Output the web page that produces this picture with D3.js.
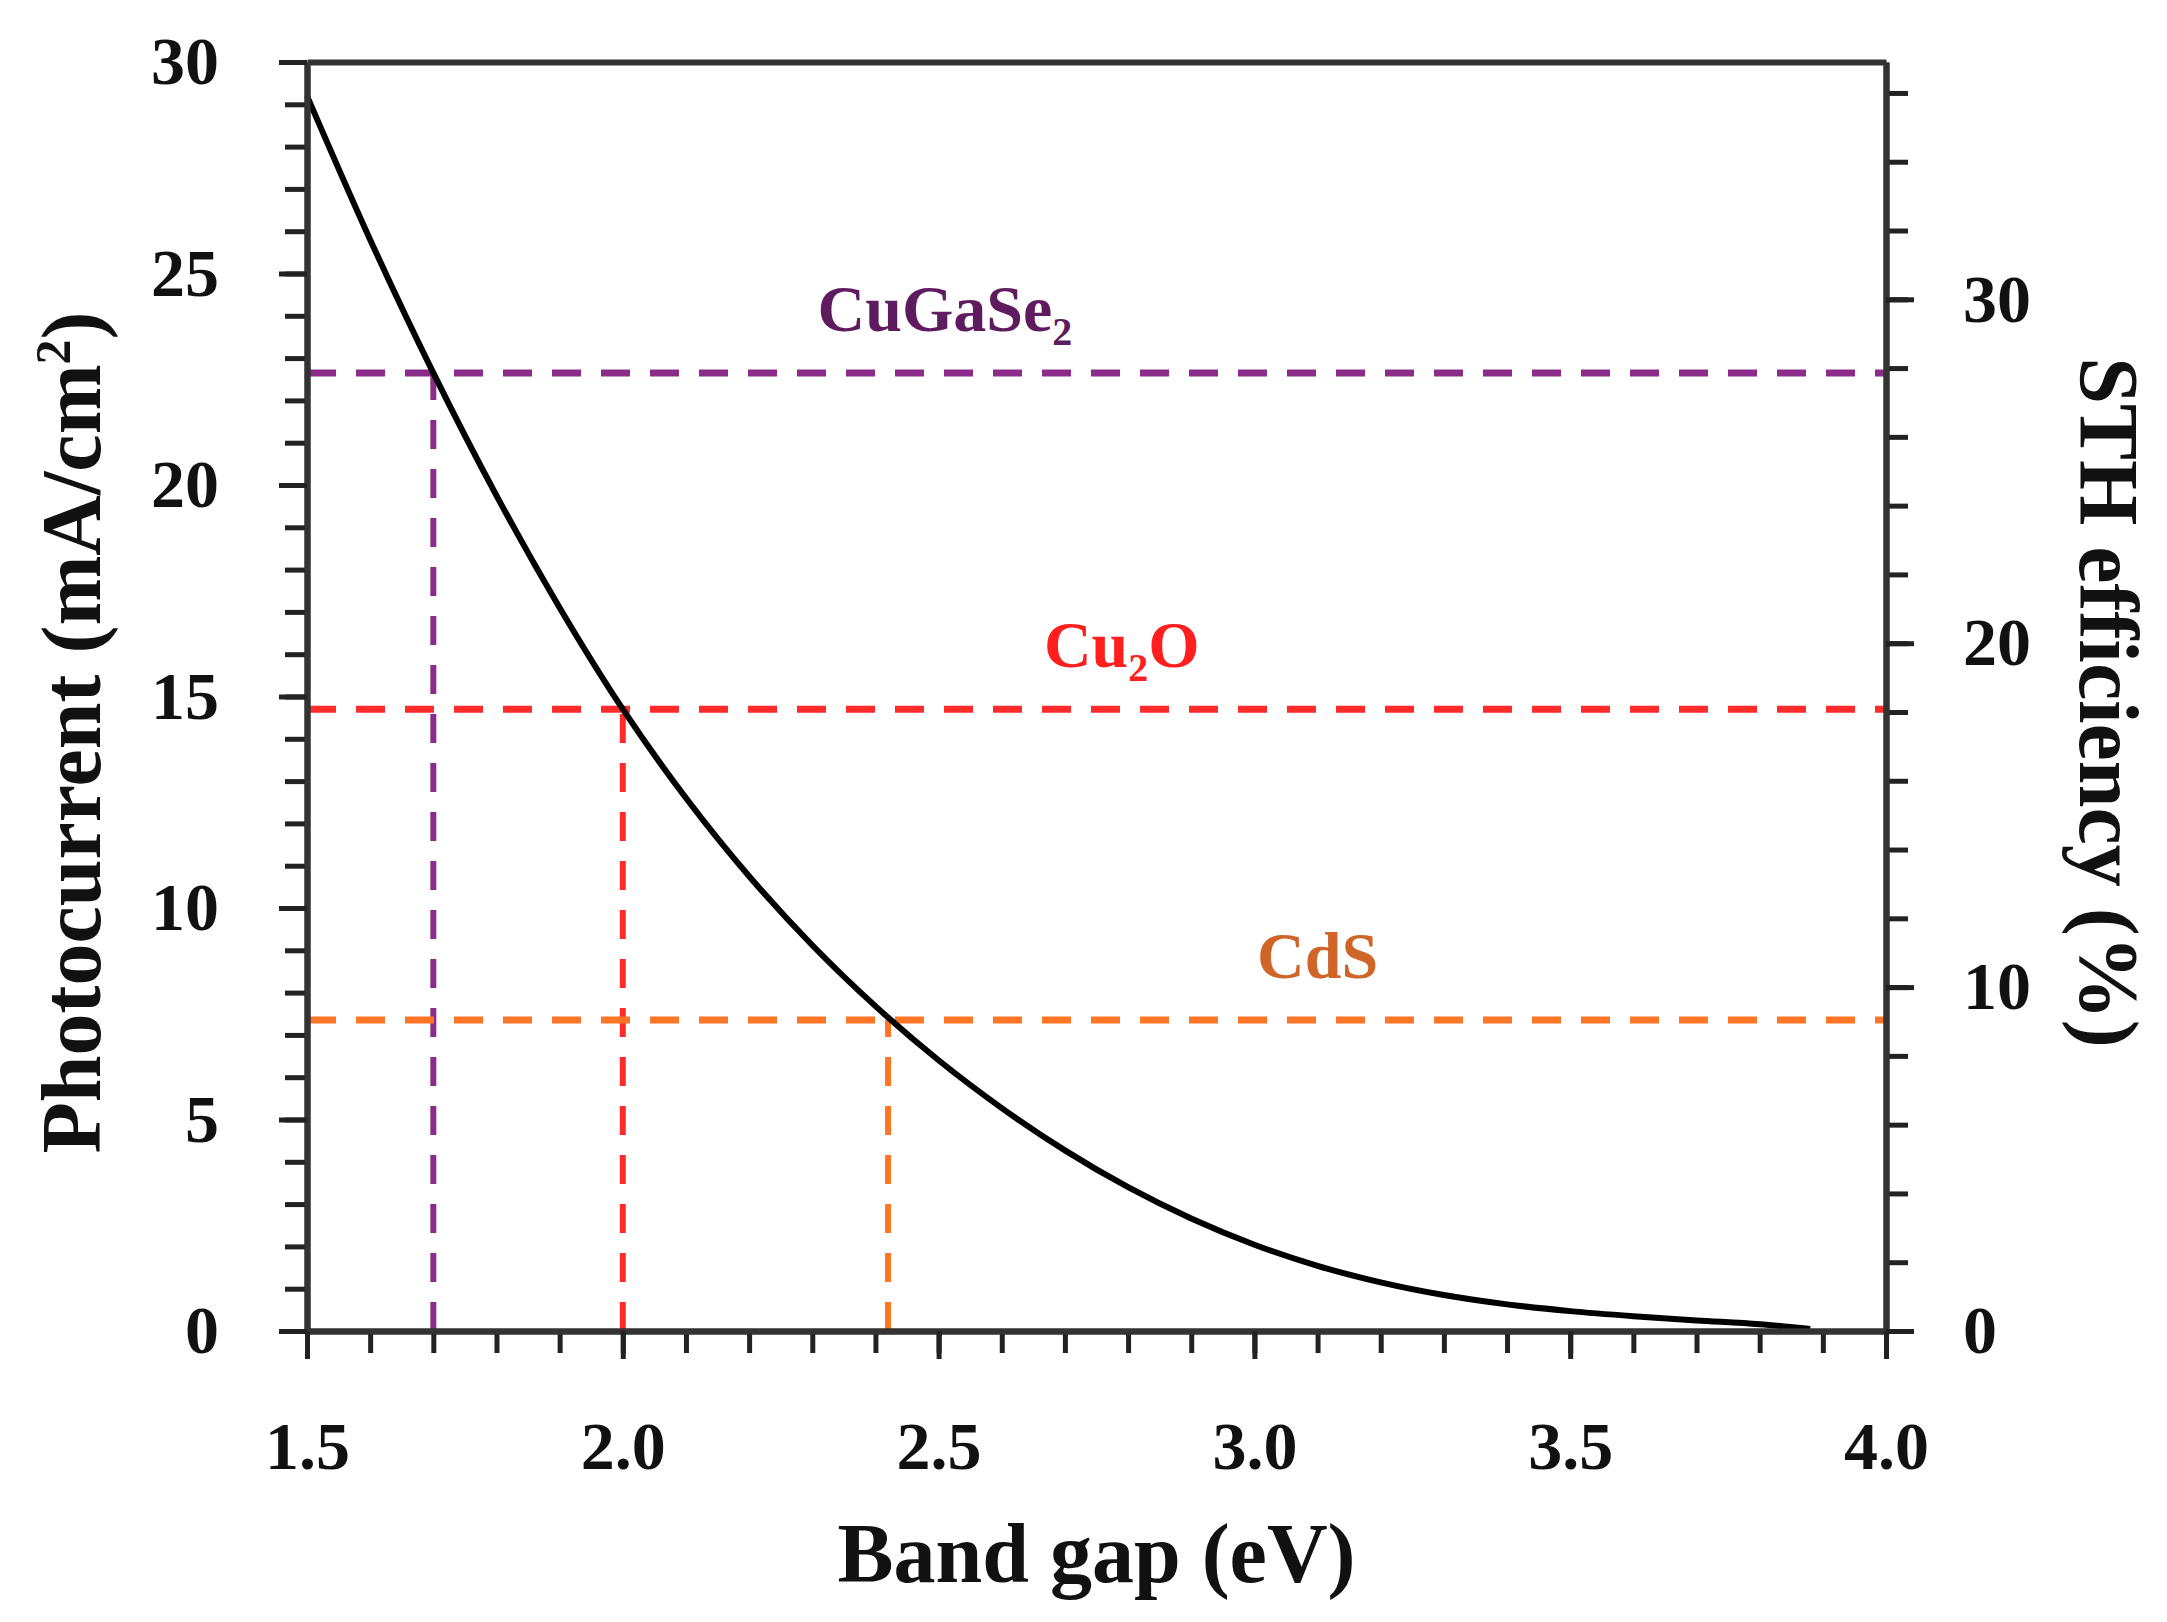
<!DOCTYPE html>
<html>
<head>
<meta charset="utf-8">
<script src="https://cdn.jsdelivr.net/npm/d3@7"></script>
<style>
  body { margin: 0; background: #fff; }
  svg { display: block; }
  text { font-family: "Liberation Serif", "Times New Roman", serif; font-weight: bold; }
</style>
</head>
<body>
<svg id="chart" width="2167" height="1622"></svg>
<script>
// curve
const bandGap = [1.5, 1.6, 1.7, 1.8, 1.9, 2.0, 2.1, 2.2, 2.3, 2.4, 2.5, 2.6, 2.7, 2.8, 2.9, 3.0, 3.1, 3.2, 3.3, 3.4, 3.5, 3.6, 3.7, 3.8, 3.88];
const photocurrent = [29.2, 25.8, 22.65, 19.75, 17.1, 14.7, 12.6, 10.75, 9.12, 7.68, 6.40, 5.27, 4.27, 3.40, 2.66, 2.04, 1.54, 1.15, 0.85, 0.63, 0.47, 0.35, 0.25, 0.16, 0.05];

// materials marked with dashed guides
const materials = ['CuGaSe2', 'Cu2O', 'CdS'];
const materialGap = [1.70, 2.00, 2.42];
const materialCurrent = [22.65, 14.7, 7.35];

// tick labels
const xTicks = [1.5, 2.0, 2.5, 3.0, 3.5, 4.0];
const yTicks = [0, 5, 10, 15, 20, 25, 30];
const y2Ticks = [0, 10, 20, 30];

const lineColors = ['#8b2c8b', '#ff2b2b', '#ff7526'];
const labelColors = ['#5e1b5e', '#ff1f1f', '#d0652a'];
const labelAt = [2.51, 2.79, 3.10]; // label centre, eV

const width = 2167;
const height = 1622;
const pL = 307, pR = 1886, pT = 62, pB = 1331;

const svg = d3.select('#chart');
svg.append('rect').attr('width', width).attr('height', height).attr('fill', '#fff');

const x = d3.scaleLinear().domain([1.5, 4.0]).range([pL, pR]);
const y = d3.scaleLinear().domain([0, 30]).range([pB, pT]);
const y2 = d3.scaleLinear().domain([0, 36.9]).range([pB, pT]);

// dashed guides
const guides = svg.append('g');
materials.forEach((m, i) => {
  guides.append('line')
    .attr('x1', x(1.5)).attr('x2', x(4.0))
    .attr('y1', y(materialCurrent[i])).attr('y2', y(materialCurrent[i]))
    .attr('stroke', lineColors[i]).attr('stroke-width', 7)
    .attr('stroke-dasharray', '29 20');
  guides.append('line')
    .attr('x1', x(materialGap[i])).attr('x2', x(materialGap[i]))
    .attr('y1', y(0)).attr('y2', y(materialCurrent[i]))
    .attr('stroke', lineColors[i]).attr('stroke-width', 6)
    .attr('stroke-dasharray', '29 20');
});

// material labels with subscripts
materials.forEach((m, i) => {
  const t = svg.append('text')
    .attr('x', x(labelAt[i]))
    .attr('y', y(materialCurrent[i]) - 42)
    .attr('text-anchor', 'middle')
    .attr('font-size', 66)
    .attr('fill', labelColors[i]);
  const parts = m.split(/(\d)/).filter(s => s.length);
  let down = false;
  parts.forEach(p => {
    if (/\d/.test(p)) {
      t.append('tspan').attr('font-size', 40).attr('dy', 14).text(p);
      down = true;
    } else {
      t.append('tspan').attr('dy', down ? -14 : 0).text(p);
      down = false;
    }
  });
});

// curve
const pts = bandGap.map((g, i) => [g, photocurrent[i]]);
const line = d3.line()
  .x(d => x(d[0]))
  .y(d => y(d[1]))
  .curve(d3.curveMonotoneX);
svg.append('path').datum(pts)
  .attr('d', line)
  .attr('fill', 'none')
  .attr('stroke', '#000')
  .attr('stroke-width', 6);

function style(g, fs) {
  g.select('.domain').attr('stroke', '#333').attr('stroke-width', 6);
  g.selectAll('.tick line').attr('stroke', '#222').attr('stroke-width', 5);
  g.selectAll('.tick text').attr('font-size', fs).attr('fill', '#111')
    .style('font-family', '"Liberation Serif", "Times New Roman", serif').style('font-weight', 'bold');
}

// top frame
svg.append('g').attr('transform', `translate(0,${pT})`)
  .call(d3.axisTop(x).tickValues([]).tickSizeOuter(0))
  .call(g => style(g, 0));

// bottom
svg.append('g').attr('transform', `translate(0,${pB})`)
  .call(d3.axisBottom(x).tickValues(d3.range(15, 41).map(d => d / 10)).tickSize(22).tickFormat('').tickSizeOuter(0))
  .call(g => style(g, 0));
svg.append('g').attr('transform', `translate(0,${pB})`)
  .call(d3.axisBottom(x).tickValues(xTicks).tickSize(28).tickPadding(62).tickFormat(d3.format('.1f')).tickSizeOuter(0))
  .call(g => style(g, 68));

// left
svg.append('g').attr('transform', `translate(${pL},0)`)
  .call(d3.axisLeft(y).tickValues(d3.range(0, 31)).tickSize(22).tickFormat('').tickSizeOuter(0))
  .call(g => style(g, 0));
svg.append('g').attr('transform', `translate(${pL},0)`)
  .call(d3.axisLeft(y).tickValues(yTicks).tickSize(28).tickPadding(60).tickSizeOuter(0))
  .call(g => style(g, 68));

// right
svg.append('g').attr('transform', `translate(${pR},0)`)
  .call(d3.axisRight(y2).tickValues(d3.range(0, 37, 2)).tickSize(22).tickFormat('').tickSizeOuter(0))
  .call(g => style(g, 0));
svg.append('g').attr('transform', `translate(${pR},0)`)
  .call(d3.axisRight(y2).tickValues(y2Ticks).tickSize(28).tickPadding(49).tickSizeOuter(0))
  .call(g => style(g, 68));

// axis titles
svg.append('text')
  .attr('x', (pL + pR) / 2).attr('y', 1582)
  .attr('text-anchor', 'middle').attr('font-size', 84).attr('fill', '#111')
  .text('Band gap (eV)');

const yt = svg.append('text')
  .attr('transform', `translate(100,${(pT + pB) / 2 + 36}) rotate(-90)`)
  .attr('text-anchor', 'middle').attr('font-size', 84).attr('fill', '#111');
yt.append('tspan').text('Photocurrent (mA/cm');
yt.append('tspan').attr('font-size', 50).attr('dy', -30).text('2');
yt.append('tspan').attr('dy', 30).text(')');

svg.append('text')
  .attr('transform', `translate(2080,${(pT + pB) / 2 + 6}) rotate(90)`)
  .attr('text-anchor', 'middle').attr('font-size', 84).attr('fill', '#111')
  .text('STH efficiency (%)');
</script>
</body>
</html>
